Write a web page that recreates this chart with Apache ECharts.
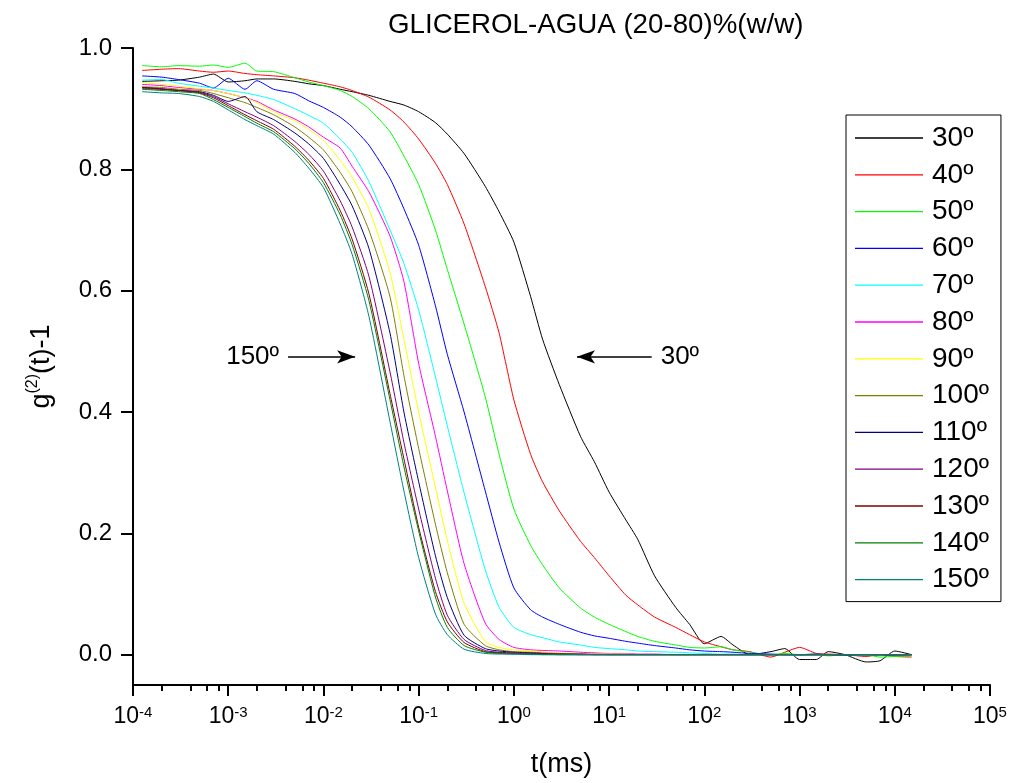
<!DOCTYPE html>
<html>
<head>
<meta charset="utf-8">
<script src="https://cdn.jsdelivr.net/npm/echarts@6/dist/echarts.min.js"></script>
<style>html,body{margin:0;padding:0;background:#fff}#c{width:1010px;height:783px}</style>
</head>
<body>
<div id="c"></div>
<script>
// delay time t (ms) sampled along the curves
const T = [1.25e-4, 2e-4, 3e-4, 5e-4, 7e-4, 1e-3, 1.5e-3, 2e-3, 3e-3, 5e-3, 7e-3,
  1e-2, 1.5e-2, 2e-2, 3e-2, 5e-2, 7e-2, 0.1, 0.15, 0.2, 0.3, 0.5, 0.7,
  1, 1.5, 2, 3, 5, 7, 10, 15, 20, 30, 50, 70, 100, 150, 200, 300, 500, 700,
  1000, 1500, 2000, 3000, 5000, 7000, 10000, 15000];

// g2(t)-1 for each scattering angle
const G30 = [.945,.946,.947,.952,.957,.944,.946,.949,.949,.945,.941,.938,.932,.928,.922,.912,.906,.895,.877,.858,.826,.772,.73,.68,.59,.52,.445,.36,.318,.268,.222,.19,.13,.078,.05,.018,.03,.016,0,.005,.01,-.008,-.008,.005,0,-.012,-.01,.006,0];
const G40 = [.963,.965,.966,.962,.96,.962,.958,.956,.954,.951,.947,.942,.936,.93,.919,.898,.878,.85,.81,.775,.71,.607,.53,.42,.33,.285,.237,.187,.16,.13,.098,.082,.062,.045,.033,.021,.013,.008,.005,-.004,.004,.012,.002,.001,0,-.003,0,-.003,-.004];
const G50 = [.971,.969,.971,.97,.972,.968,.975,.962,.961,.951,.944,.938,.93,.92,.90,.862,.822,.775,.70,.635,.545,.425,.33,.24,.18,.148,.11,.077,.062,.05,.038,.03,.022,.016,.012,.011,.013,.008,.004,0,.002,0,.001,-.002,0,0,-.004,-.003,-.002];
const G60 = [.954,.952,.948,.942,.934,.95,.932,.946,.932,.925,.913,.902,.886,.87,.84,.785,.735,.675,.575,.495,.40,.27,.185,.11,.074,.062,.05,.037,.031,.027,.022,.019,.015,.011,.008,.006,.005,.004,.002,.001,0,0,.001,0,-.001,0,0,-.001,0];
const G70 = [.947,.948,.942,.937,.934,.93,.926,.922,.915,.90,.889,.876,.85,.828,.78,.70,.645,.568,.458,.377,.267,.14,.078,.045,.033,.028,.021,.016,.012,.01,.008,.006,.005,.004,.003,.002,.001,.001,0,0,0,-.001,0,0,0,-.001,0,0,0];
const G80 = [.94,.938,.935,.932,.93,.925,.918,.912,.898,.883,.87,.853,.835,.805,.763,.69,.615,.48,.36,.27,.15,.052,.025,.012,.008,.007,.006,.004,.003,.002,.002,.001,.001,0,0,0,0,0,0,0,0,0,0,0,0,0,0,0,0];
const G90 = [.943,.94,.937,.933,.93,.925,.918,.91,.895,.88,.866,.848,.815,.787,.735,.63,.52,.40,.276,.188,.085,.022,.012,.008,.006,.005,.003,.002,.001,.001,.001,0,0,0,0,0,0,0,0,0,0,0,0,0,0,0,0,0,0];
const G100 = [.936,.935,.932,.93,.925,.918,.91,.902,.89,.87,.853,.832,.795,.763,.70,.59,.46,.34,.215,.135,.05,.015,.008,.005,.004,.003,.002,.001,.001,0,0,0,0,0,0,0,0,0,0,0,0,0,0,0,0,0,0,0,0];
const G110 = [.935,.933,.93,.928,.922,.912,.92,.895,.882,.86,.842,.818,.775,.74,.67,.53,.40,.285,.163,.094,.032,.01,.006,.004,.003,.002,.001,.001,0,0,0,0,0,0,0,0,0,0,0,0,0,0,0,0,0,0,0,0,0];
const G120 = [.933,.932,.93,.927,.92,.908,.895,.886,.872,.846,.825,.797,.748,.705,.624,.466,.35,.24,.126,.065,.025,.007,.004,.003,.002,.001,.001,0,0,0,0,0,0,0,0,0,0,0,0,0,0,0,0,0,0,0,0,0,0];
const G130 = [.935,.932,.93,.926,.918,.905,.89,.88,.866,.838,.815,.785,.732,.685,.595,.43,.323,.21,.104,.054,.02,.005,.003,.002,.001,.001,0,0,0,0,0,0,0,0,0,0,0,0,0,0,0,0,0,0,0,0,0,0,0];
const G140 = [.932,.93,.928,.925,.915,.902,.887,.876,.862,.834,.81,.778,.725,.676,.584,.42,.31,.204,.095,.045,.015,.004,.002,.001,.001,0,0,0,0,0,0,0,0,0,0,0,0,0,0,0,0,0,0,0,0,0,0,0,0];
const G150 = [.928,.926,.925,.92,.912,.898,.882,.872,.858,.828,.802,.77,.71,.66,.558,.384,.27,.16,.067,.033,.009,.002,.001,.001,0,0,0,0,0,0,0,0,0,0,0,0,0,0,0,0,0,0,0,0,0,0,0,0,0];

const SERIES_VALUES = [G30, G40, G50, G60, G70, G80, G90, G100, G110, G120, G130, G140, G150];
const NAMES = ['30º','40º','50º','60º','70º','80º','90º','100º','110º','120º','130º','140º','150º'];
const COLORS = ['#000000','#FF0000','#00FF00','#0000FF','#00FFFF','#FF00FF','#FFFF00','#808000','#000080','#800080','#800000','#008000','#008080'];

const X_MAJOR = [1e-4, 1e-3, 1e-2, 1e-1, 1, 10, 100, 1000, 10000, 100000];
const X_MINOR_MULT = [2, 4, 6, 8];
const Y_TICKS = [0, 0.2, 0.4, 0.6, 0.8, 1.0];

// arrow annotations (data coordinates)
const ARROW_Y = 0.491;
const ARROW_150 = [4.25e-3, 0.0215];
const ARROW_30 = [28, 4.6];

const xMinor = [];
X_MAJOR.slice(0, -1).forEach(d => X_MINOR_MULT.forEach(m => xMinor.push(+(d * m).toPrecision(6))));

const FONT = 'Liberation Sans, Arial, sans-serif';

const series = SERIES_VALUES.map((vals, i) => ({
  name: NAMES[i],
  type: 'line',
  xAxisIndex: 0,
  yAxisIndex: 0,
  symbol: 'none',
  smooth: 0.2,
  lineStyle: { width: 1, color: COLORS[i] },
  itemStyle: { color: COLORS[i] },
  z: 2 + i,
  data: T.map((t, k) => [t, vals[k]])
}));

series[0].markLine = {
  silent: true,
  animation: false,
  symbol: ['none', 'arrow'],
  symbolSize: [10, 18],
  lineStyle: { color: '#000', width: 1.5, type: 'solid' },
  label: { show: true, position: 'start', color: '#000', fontSize: 26, fontFamily: FONT, distance: 9 },
  data: [
    [{ coord: [ARROW_150[0], ARROW_Y], label: { formatter: '150º' } }, { coord: [ARROW_150[1], ARROW_Y] }],
    [{ coord: [ARROW_30[0], ARROW_Y], label: { formatter: '30º' } }, { coord: [ARROW_30[1], ARROW_Y] }]
  ]
};

const chart = echarts.init(document.getElementById('c'), null, { renderer: 'canvas' });
chart.setOption({
  animation: false,
  backgroundColor: '#fff',
  title: {
    text: 'GLICEROL-AGUA (20-80)%(w/w)',
    left: 388, top: 11, padding: 0,
    textStyle: { fontSize: 27.7, fontWeight: 'normal', color: '#000', fontFamily: FONT }
  },
  grid: { left: 133, right: 20, top: 48, bottom: 97, containLabel: false },
  legend: {
    orient: 'vertical',
    left: 846, top: 115,
    padding: [9, 12, 8, 9],
    icon: 'rect',
    itemWidth: 68, itemHeight: 1.3, itemGap: 8.8,
    backgroundColor: '#fff',
    borderColor: '#000', borderWidth: 1,
    textStyle: { fontSize: 28, lineHeight: 28, color: '#000', fontFamily: FONT, padding: [0, 0, 0, 4] },
    data: NAMES
  },
  xAxis: [{
    type: 'log', logBase: 10, min: 1e-4, max: 1e5,
    position: 'bottom',
    name: 't(ms)', nameLocation: 'middle', nameGap: 66,
    nameTextStyle: { fontSize: 27, color: '#000', fontFamily: FONT },
    axisLine: { onZero: false, lineStyle: { color: '#000', width: 2 } },
    axisTick: { show: true, inside: false, length: 11, lineStyle: { color: '#000', width: 2 }, customValues: X_MAJOR },
    splitLine: { show: false },
    minorTick: { show: false },
    axisLabel: {
      margin: 20,
      customValues: X_MAJOR,
      formatter: v => '{b|10}{s|' + Math.round(Math.log10(v)) + '}',
      rich: {
        b: { fontSize: 23, lineHeight: 23, color: '#000', fontFamily: FONT, verticalAlign: 'bottom' },
        s: { fontSize: 15, lineHeight: 14, color: '#000', fontFamily: FONT, verticalAlign: 'top', padding: [0, 0, 15, 0] }
      }
    }
  }, {
    type: 'log', logBase: 10, min: 1e-4, max: 1e5,
    position: 'bottom',
    axisLine: { show: false, onZero: false },
    axisTick: { show: true, inside: false, length: 6, lineStyle: { color: '#000', width: 2 }, customValues: xMinor },
    axisLabel: { show: false },
    splitLine: { show: false }
  }],
  yAxis: [{
    type: 'value', min: -0.05, max: 1.0,
    name: '{g|g}{s|(2)}{g|(t)-1}', nameLocation: 'middle', nameGap: 78, nameRotate: 90,
    nameTextStyle: {
      rich: {
        g: { fontSize: 27, color: '#000', fontFamily: FONT, lineHeight: 30, verticalAlign: 'bottom' },
        s: { fontSize: 16, color: '#000', fontFamily: FONT, lineHeight: 16, verticalAlign: 'top', padding: [0, 0, 12, 0] }
      }
    },
    axisLine: { show: true, onZero: false, lineStyle: { color: '#000', width: 2 } },
    axisTick: { show: true, inside: false, length: 12, lineStyle: { color: '#000', width: 2 }, customValues: Y_TICKS },
    splitLine: { show: false },
    axisLabel: {
      margin: 21, fontSize: 24, color: '#000', fontFamily: FONT,
      customValues: Y_TICKS,
      formatter: v => v.toFixed(1)
    }
  }],
  series: series
});
</script>
</body>
</html>
